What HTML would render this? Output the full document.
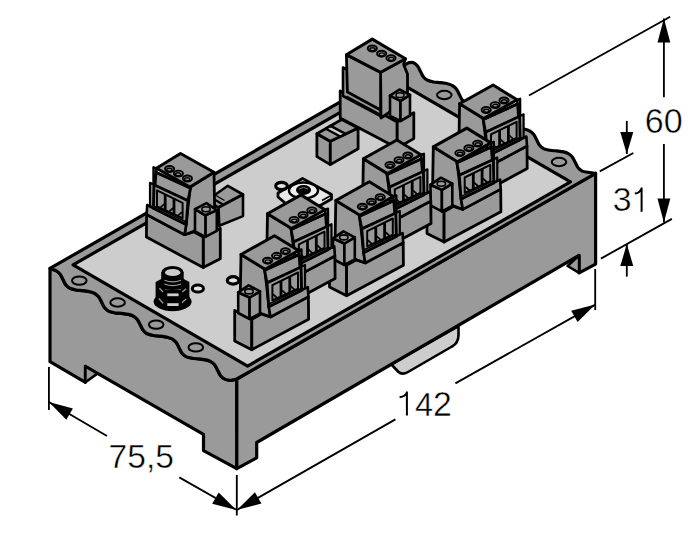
<!DOCTYPE html>
<html><head><meta charset="utf-8"><style>html,body{margin:0;padding:0;background:#fff;width:700px;height:555px;overflow:hidden}svg{display:block}</style></head>
<body><svg width="700" height="555" viewBox="0 0 700 555">
<rect width="700" height="555" fill="#fff"/>
<path d="M391,364 L398,371.5 Q402,375.5 408,372 L452,346.5 Q458.5,343 458.5,335 L458.5,326 Z" fill="#cdcdcd" stroke="#000" stroke-width="2.6" stroke-linejoin="round"/>
<path d="M50,268.4 C51.0,268.8 54.3,269.8 56.0,270.7 C57.7,271.6 58.8,272.5 60.0,274.0 C61.2,275.5 62.0,277.7 63.0,279.5 C64.0,281.3 64.8,283.5 66.0,285.0 C67.2,286.5 68.3,287.5 70.0,288.3 C71.7,289.1 73.8,289.6 76.0,290.0 C78.2,290.4 80.7,290.4 83.0,290.7 C85.3,291.0 88.0,291.2 90.0,291.7 C92.0,292.2 93.2,292.6 94.7,293.4 C96.2,294.3 97.5,295.3 98.7,296.8 C99.9,298.2 100.7,300.4 101.7,302.2 C102.7,304.1 103.5,306.3 104.7,307.8 C105.9,309.2 107.0,310.2 108.7,311.1 C110.4,311.9 112.5,312.4 114.7,312.8 C116.9,313.1 119.4,313.2 121.7,313.4 C124.0,313.7 126.7,314.0 128.7,314.4 C130.6,314.9 131.9,315.4 133.4,316.2 C134.9,317.0 136.2,318.0 137.4,319.5 C138.6,321.0 139.4,323.2 140.4,325.0 C141.4,326.8 142.2,329.0 143.4,330.5 C144.6,332.0 145.7,333.0 147.4,333.8 C149.1,334.6 151.2,335.1 153.4,335.5 C155.6,335.9 158.1,335.9 160.4,336.2 C162.7,336.5 165.4,336.7 167.4,337.2 C169.4,337.7 170.7,338.1 172.1,338.9 C173.6,339.8 174.9,340.8 176.1,342.2 C177.3,343.7 178.1,345.9 179.1,347.8 C180.1,349.6 180.9,351.8 182.1,353.2 C183.3,354.7 184.4,355.7 186.1,356.6 C187.8,357.4 189.9,357.9 192.1,358.2 C194.3,358.6 196.8,358.7 199.1,358.9 C201.4,359.2 204.2,359.5 206.1,359.9 C208.1,360.4 209.4,360.9 210.8,361.7 C212.2,362.5 213.6,363.5 214.8,365.0 C216.0,366.5 216.8,368.7 217.8,370.5 C218.8,372.3 219.6,374.6 220.8,376.0 C222.0,377.4 223.2,378.4 224.8,379.1 C226.4,379.8 228.3,380.3 230.3,380.3 C232.3,380.3 235.7,379.2 236.8,379.0 L236.8,468.6 L203.5,450.6 L203.5,434.4 L85.4,366.3 L85.4,382.3 L50,361.7 Z" fill="#9a9a9a" stroke="#000" stroke-width="3.2" stroke-linejoin="round"/>
<polygon points="85.4,366.3 97.4,373.6 85.4,382.3" fill="#9a9a9a" stroke="#000" stroke-width="2.6" stroke-linejoin="round" />
<polygon points="236.8,379.0 595.6,173.3 595.6,264.1 579.1,272.8 579.1,255.3 256.7,442.5 256.7,457.8 236.8,468.6" fill="#9a9a9a" stroke="#000" stroke-width="3.2" stroke-linejoin="round" />
<polygon points="579.1,255.3 567.6,266.0 579.1,272.8" fill="#9a9a9a" stroke="#000" stroke-width="2.6" stroke-linejoin="round" />
<path d="M50,268.4 L408.8,62.7 C409.6,62.7 412.1,62.1 413.5,62.7 C414.9,63.3 416.3,64.5 417.5,66.0 C418.7,67.5 419.5,69.7 420.5,71.5 C421.5,73.3 422.3,75.5 423.5,77.0 C424.7,78.5 425.8,79.5 427.5,80.3 C429.2,81.1 431.3,81.6 433.5,82.0 C435.7,82.4 438.2,82.4 440.5,82.7 C442.8,83.0 445.6,83.2 447.5,83.7 C449.4,84.2 450.8,84.6 452.2,85.5 C453.6,86.3 455.0,87.3 456.2,88.8 C457.4,90.2 458.2,92.4 459.2,94.2 C460.2,96.1 461.0,98.3 462.2,99.8 C463.4,101.2 464.5,102.2 466.2,103.0 C467.9,103.9 470.0,104.3 472.2,104.8 C474.4,105.2 476.9,105.2 479.2,105.5 C481.5,105.7 484.2,106.0 486.2,106.5 C488.1,106.9 489.4,107.4 490.9,108.2 C492.3,109.0 493.7,110.0 494.9,111.5 C496.1,113.0 496.9,115.2 497.9,117.0 C498.9,118.8 499.7,121.0 500.9,122.5 C502.1,124.0 503.2,125.0 504.9,125.8 C506.6,126.6 508.7,127.1 510.9,127.5 C513.1,127.9 515.6,127.9 517.9,128.2 C520.2,128.5 522.9,128.7 524.9,129.2 C526.9,129.7 528.1,130.1 529.6,130.9 C531.1,131.8 532.4,132.8 533.6,134.2 C534.8,135.7 535.6,137.9 536.6,139.8 C537.6,141.6 538.4,143.8 539.6,145.2 C540.8,146.7 541.9,147.7 543.6,148.6 C545.3,149.4 547.4,149.8 549.6,150.2 C551.8,150.7 554.3,150.7 556.6,150.9 C558.9,151.2 561.7,151.5 563.6,151.9 C565.5,152.4 566.8,152.9 568.3,153.7 C569.8,154.5 571.1,155.5 572.3,157.0 C573.5,158.5 574.3,160.7 575.3,162.5 C576.3,164.3 577.1,166.6 578.3,168.0 C579.5,169.4 580.7,170.4 582.3,171.1 C583.9,171.8 585.6,171.9 587.8,172.3 C590.0,172.7 594.3,173.1 595.6,173.3 L236.8,379 C235.7,379.2 232.3,380.3 230.3,380.3 C228.3,380.3 226.4,379.8 224.8,379.1 C223.2,378.4 222.0,377.4 220.8,376.0 C219.6,374.6 218.8,372.3 217.8,370.5 C216.8,368.7 216.0,366.5 214.8,365.0 C213.6,363.5 212.2,362.5 210.8,361.7 C209.4,360.9 208.1,360.4 206.1,359.9 C204.2,359.5 201.4,359.2 199.1,358.9 C196.8,358.7 194.3,358.6 192.1,358.2 C189.9,357.9 187.8,357.4 186.1,356.6 C184.4,355.7 183.3,354.7 182.1,353.2 C180.9,351.8 180.1,349.6 179.1,347.8 C178.1,345.9 177.3,343.7 176.1,342.2 C174.9,340.8 173.6,339.8 172.1,338.9 C170.7,338.1 169.4,337.7 167.4,337.2 C165.4,336.7 162.7,336.5 160.4,336.2 C158.1,335.9 155.6,335.9 153.4,335.5 C151.2,335.1 149.1,334.6 147.4,333.8 C145.7,333.0 144.6,332.0 143.4,330.5 C142.2,329.0 141.4,326.8 140.4,325.0 C139.4,323.2 138.6,321.0 137.4,319.5 C136.2,318.0 134.9,317.0 133.4,316.2 C131.9,315.4 130.6,314.9 128.7,314.4 C126.7,314.0 124.0,313.7 121.7,313.4 C119.4,313.2 116.9,313.1 114.7,312.8 C112.5,312.4 110.4,311.9 108.7,311.1 C107.0,310.2 105.9,309.2 104.7,307.8 C103.5,306.3 102.7,304.1 101.7,302.2 C100.7,300.4 99.9,298.2 98.7,296.8 C97.5,295.3 96.2,294.3 94.7,293.4 C93.2,292.6 92.0,292.2 90.0,291.7 C88.0,291.2 85.3,291.0 83.0,290.7 C80.7,290.4 78.2,290.4 76.0,290.0 C73.8,289.6 71.7,289.1 70.0,288.3 C68.3,287.5 67.2,286.5 66.0,285.0 C64.8,283.5 64.0,281.3 63.0,279.5 C62.0,277.7 61.2,275.5 60.0,274.0 C58.8,272.5 57.7,271.6 56.0,270.7 C54.3,269.8 51.0,268.8 50.0,268.4 Z" fill="#9a9a9a" stroke="#000" stroke-width="3.2" stroke-linejoin="round"/>
<polygon points="73.1,264.8 396.0,80.6 570.5,181.9 247.6,366.1" fill="#cdcdcd" stroke="#000" stroke-width="3.2" stroke-linejoin="round" />
<ellipse cx="79.3" cy="280.6" rx="7.3" ry="4.2" fill="#9a9a9a" stroke="#000" stroke-width="2"/>
<ellipse cx="117.6" cy="302.5" rx="7.3" ry="4.2" fill="#9a9a9a" stroke="#000" stroke-width="2"/>
<ellipse cx="156.2" cy="324.6" rx="7.3" ry="4.2" fill="#9a9a9a" stroke="#000" stroke-width="2"/>
<ellipse cx="195.8" cy="347.4" rx="7.3" ry="4.2" fill="#9a9a9a" stroke="#000" stroke-width="2"/>
<ellipse cx="444.3" cy="95" rx="7.3" ry="4.2" fill="#9a9a9a" stroke="#000" stroke-width="2"/>
<ellipse cx="559" cy="162" rx="7.3" ry="4.2" fill="#9a9a9a" stroke="#000" stroke-width="2"/>
<polygon points="340.2,91.0 397.2,122.0 397.2,148.0 340.2,118.0" fill="#9a9a9a" stroke="#000" stroke-width="2.8" stroke-linejoin="round" />
<polygon points="397.2,122.0 413.8,112.7 413.8,138.6 397.2,148.0" fill="#9a9a9a" stroke="#000" stroke-width="2.8" stroke-linejoin="round" />
<polygon points="380.6,72.3 405.5,58.8 403.6,64.5 407.5,74.0 407.5,100.0 381.0,118.0" fill="#9a9a9a" stroke="#000" stroke-width="2.8" stroke-linejoin="round" />
<polygon points="343.0,67.5 380.6,87.0 380.6,116.0 343.0,96.0" fill="#9a9a9a" stroke="#000" stroke-width="2.6" stroke-linejoin="round" />
<polygon points="346.4,54.7 380.6,72.3 380.6,110.0 347.4,92.0" fill="#9a9a9a" stroke="#000" stroke-width="2.8" stroke-linejoin="round" />
<line x1="346.4" y1="96.5" x2="380.0" y2="114.5" stroke="#000" stroke-width="2.4"/>
<polygon points="346.4,54.7 372.3,39.1 405.5,58.8 380.6,72.3" fill="#9a9a9a" stroke="#000" stroke-width="3" stroke-linejoin="round" />
<ellipse cx="372.3" cy="48.5" rx="4.6" ry="3.0" fill="#9a9a9a" stroke="#000" stroke-width="1.9"/>
<ellipse cx="372.5" cy="49.2" rx="2.7" ry="1.5" fill="none" stroke="#000" stroke-width="1.4"/>
<ellipse cx="381.6" cy="53.7" rx="4.6" ry="3.0" fill="#9a9a9a" stroke="#000" stroke-width="1.9"/>
<ellipse cx="381.8" cy="54.400000000000006" rx="2.7" ry="1.5" fill="none" stroke="#000" stroke-width="1.4"/>
<ellipse cx="391" cy="58.2" rx="4.6" ry="3.0" fill="#9a9a9a" stroke="#000" stroke-width="1.9"/>
<ellipse cx="391.2" cy="58.900000000000006" rx="2.7" ry="1.5" fill="none" stroke="#000" stroke-width="1.4"/>
<polygon points="390.0,95.6 400.5,100.8 400.5,121.0 390.0,115.8" fill="#9a9a9a" stroke="#000" stroke-width="2.6" stroke-linejoin="round" />
<polygon points="400.5,100.8 410.0,94.8 410.0,115.5 400.5,121.0" fill="#9a9a9a" stroke="#000" stroke-width="2.6" stroke-linejoin="round" />
<polygon points="390.0,95.6 399.5,89.5 410.0,94.8 400.5,100.8" fill="#9a9a9a" stroke="#000" stroke-width="2.6" stroke-linejoin="round" />
<ellipse cx="400" cy="95.2" rx="4" ry="2.4" fill="#9a9a9a" stroke="#000" stroke-width="1.5"/>
<polygon points="316.9,133.8 330.3,141.3 330.3,164.6 316.9,156.6" fill="#9a9a9a" stroke="#000" stroke-width="2.8" stroke-linejoin="round" />
<polygon points="330.3,141.3 358.1,127.9 358.1,148.7 330.3,164.6" fill="#9a9a9a" stroke="#000" stroke-width="2.8" stroke-linejoin="round" />
<polygon points="316.9,133.8 341.7,119.5 358.1,127.9 330.3,141.3" fill="#9a9a9a" stroke="#000" stroke-width="2.8" stroke-linejoin="round" />
<polygon points="325.8,128.7 330.5,125.9 345.6,133.9 340.3,136.5" fill="#cdcdcd" stroke="#000" stroke-width="2.4" stroke-linejoin="round" />
<g transform="translate(459.6,103.8)"><polygon points="-6.3,56.0 10.8,64.8 10.8,95.2 -6.3,86.5" fill="#9a9a9a" stroke="#000" stroke-width="2.8" stroke-linejoin="round" />
<polygon points="10.8,64.8 20.2,59.5 29.5,62.4 67.4,42.2 67.6,64.8 10.8,95.2" fill="#9a9a9a" stroke="#000" stroke-width="2.8" stroke-linejoin="round" />
<polygon points="0.0,0.0 23.5,14.0 25.5,30.0 27.8,52.2 29.5,62.4 20.7,59.2 -0.8,46.0" fill="#9a9a9a" stroke="#000" stroke-width="2.8" stroke-linejoin="round" />
<polygon points="57.5,-4.0 60.5,-5.0 60.5,12.5 58.8,13.5" fill="#9a9a9a" stroke="#000" stroke-width="2.4" stroke-linejoin="round" />
<polygon points="60.0,12.5 64.0,10.5 64.0,34.0 60.5,36.0" fill="#9a9a9a" stroke="#000" stroke-width="2.2" stroke-linejoin="round" />
<polygon points="27.8,52.2 66.8,32.7 67.4,42.2 29.5,62.4" fill="#9a9a9a" stroke="#000" stroke-width="2.6" stroke-linejoin="round" />
<polygon points="23.5,15.5 58.0,0.0 59.0,13.5 26.0,28.4" fill="#9a9a9a" stroke="#000" stroke-width="2.8" stroke-linejoin="round" />
<polygon points="26.0,28.4 60.0,12.5 60.5,36.0 27.8,52.2" fill="#9a9a9a" stroke="#000" stroke-width="2.8" stroke-linejoin="round" />
<polygon points="31.4,30.6 57.0,18.0 57.0,34.2 31.4,45.9" fill="#9a9a9a" stroke="#000" stroke-width="2.0" stroke-linejoin="round" />
<line x1="32.0" y1="39.8" x2="36.4" y2="43.6" stroke="#000" stroke-width="1.8"/>
<line x1="40.8" y1="35.7" x2="45.2" y2="39.6" stroke="#000" stroke-width="1.8"/>
<line x1="49.6" y1="31.5" x2="54.0" y2="35.6" stroke="#000" stroke-width="1.8"/>
<line x1="40.0" y1="26.4" x2="40.0" y2="42.0" stroke="#000" stroke-width="2.8"/>
<line x1="48.8" y1="22.0" x2="48.8" y2="37.9" stroke="#000" stroke-width="2.8"/>
<line x1="28.5" y1="49.2" x2="61.5" y2="33.2" stroke="#000" stroke-width="1.6"/>
<polygon points="0.0,0.0 33.5,-18.8 57.5,-4.0 24.0,14.8" fill="#9a9a9a" stroke="#000" stroke-width="3" stroke-linejoin="round" />
<line x1="23.5" y1="16.2" x2="58.0" y2="0.3" stroke="#000" stroke-width="2.4"/>
<ellipse cx="26.6" cy="6.2" rx="4.6" ry="3.0" fill="#9a9a9a" stroke="#000" stroke-width="1.9"/>
<ellipse cx="26.8" cy="6.9" rx="2.7" ry="1.5" fill="none" stroke="#000" stroke-width="1.4"/>
<ellipse cx="35.6" cy="1.3" rx="4.6" ry="3.0" fill="#9a9a9a" stroke="#000" stroke-width="1.9"/>
<ellipse cx="35.800000000000004" cy="2.0" rx="2.7" ry="1.5" fill="none" stroke="#000" stroke-width="1.4"/>
<ellipse cx="44.4" cy="-3.3" rx="4.6" ry="3.0" fill="#9a9a9a" stroke="#000" stroke-width="1.9"/>
<ellipse cx="44.6" cy="-2.5999999999999996" rx="2.7" ry="1.5" fill="none" stroke="#000" stroke-width="1.4"/>
<polygon points="-2.8,37.8 8.6,43.0 8.6,64.5 -2.8,58.5" fill="#9a9a9a" stroke="#000" stroke-width="2.6" stroke-linejoin="round" />
<polygon points="8.6,43.0 19.0,36.8 19.0,59.0 8.6,64.5" fill="#9a9a9a" stroke="#000" stroke-width="2.6" stroke-linejoin="round" />
<polygon points="-2.8,37.8 7.6,30.8 19.0,36.8 8.6,43.0" fill="#9a9a9a" stroke="#000" stroke-width="2.6" stroke-linejoin="round" />
<ellipse cx="8" cy="36.9" rx="4.2" ry="2.5" fill="#9a9a9a" stroke="#000" stroke-width="1.6"/></g>
<polygon points="212.0,197.0 227.8,185.8 243.0,194.5 218.5,207.5 212.0,204.0" fill="#9a9a9a" stroke="#000" stroke-width="2.6" stroke-linejoin="round" />
<polygon points="218.5,207.5 243.0,194.5 243.0,216.1 219.2,225.8" fill="#9a9a9a" stroke="#000" stroke-width="2.6" stroke-linejoin="round" />
<line x1="214.5" y1="199.5" x2="223.0" y2="204.5" stroke="#000" stroke-width="2.2"/>
<line x1="216.0" y1="195.5" x2="224.5" y2="200.5" stroke="#000" stroke-width="1.4"/>
<g transform="translate(214,172.3) scale(-1,1)"><polygon points="-6.3,56.0 10.8,64.8 10.8,95.2 -6.3,86.5" fill="#9a9a9a" stroke="#000" stroke-width="2.8" stroke-linejoin="round" />
<polygon points="10.8,64.8 20.2,59.5 29.5,62.4 67.4,42.2 67.6,64.8 10.8,95.2" fill="#9a9a9a" stroke="#000" stroke-width="2.8" stroke-linejoin="round" />
<polygon points="0.0,0.0 23.5,14.0 25.5,30.0 27.8,52.2 29.5,62.4 20.7,59.2 -0.8,46.0" fill="#9a9a9a" stroke="#000" stroke-width="2.8" stroke-linejoin="round" />
<polygon points="57.5,-4.0 60.5,-5.0 60.5,12.5 58.8,13.5" fill="#9a9a9a" stroke="#000" stroke-width="2.4" stroke-linejoin="round" />
<polygon points="60.0,12.5 64.0,10.5 64.0,34.0 60.5,36.0" fill="#9a9a9a" stroke="#000" stroke-width="2.2" stroke-linejoin="round" />
<polygon points="27.8,52.2 66.8,32.7 67.4,42.2 29.5,62.4" fill="#9a9a9a" stroke="#000" stroke-width="2.6" stroke-linejoin="round" />
<polygon points="23.5,15.5 58.0,0.0 59.0,13.5 26.0,28.4" fill="#9a9a9a" stroke="#000" stroke-width="2.8" stroke-linejoin="round" />
<polygon points="26.0,28.4 60.0,12.5 60.5,36.0 27.8,52.2" fill="#9a9a9a" stroke="#000" stroke-width="2.8" stroke-linejoin="round" />
<polygon points="31.4,30.6 57.0,18.0 57.0,34.2 31.4,45.9" fill="#9a9a9a" stroke="#000" stroke-width="2.0" stroke-linejoin="round" />
<line x1="32.0" y1="39.8" x2="36.4" y2="43.6" stroke="#000" stroke-width="1.8"/>
<line x1="40.8" y1="35.7" x2="45.2" y2="39.6" stroke="#000" stroke-width="1.8"/>
<line x1="49.6" y1="31.5" x2="54.0" y2="35.6" stroke="#000" stroke-width="1.8"/>
<line x1="40.0" y1="26.4" x2="40.0" y2="42.0" stroke="#000" stroke-width="2.8"/>
<line x1="48.8" y1="22.0" x2="48.8" y2="37.9" stroke="#000" stroke-width="2.8"/>
<line x1="28.5" y1="49.2" x2="61.5" y2="33.2" stroke="#000" stroke-width="1.6"/>
<polygon points="0.0,0.0 33.5,-18.8 57.5,-4.0 24.0,14.8" fill="#9a9a9a" stroke="#000" stroke-width="3" stroke-linejoin="round" />
<line x1="23.5" y1="16.2" x2="58.0" y2="0.3" stroke="#000" stroke-width="2.4"/>
<ellipse cx="26.6" cy="6.2" rx="4.6" ry="3.0" fill="#9a9a9a" stroke="#000" stroke-width="1.9"/>
<ellipse cx="26.8" cy="6.9" rx="2.7" ry="1.5" fill="none" stroke="#000" stroke-width="1.4"/>
<ellipse cx="35.6" cy="1.3" rx="4.6" ry="3.0" fill="#9a9a9a" stroke="#000" stroke-width="1.9"/>
<ellipse cx="35.800000000000004" cy="2.0" rx="2.7" ry="1.5" fill="none" stroke="#000" stroke-width="1.4"/>
<ellipse cx="44.4" cy="-3.3" rx="4.6" ry="3.0" fill="#9a9a9a" stroke="#000" stroke-width="1.9"/>
<ellipse cx="44.6" cy="-2.5999999999999996" rx="2.7" ry="1.5" fill="none" stroke="#000" stroke-width="1.4"/>
<polygon points="-2.8,37.8 8.6,43.0 8.6,64.5 -2.8,58.5" fill="#9a9a9a" stroke="#000" stroke-width="2.6" stroke-linejoin="round" />
<polygon points="8.6,43.0 19.0,36.8 19.0,59.0 8.6,64.5" fill="#9a9a9a" stroke="#000" stroke-width="2.6" stroke-linejoin="round" />
<polygon points="-2.8,37.8 7.6,30.8 19.0,36.8 8.6,43.0" fill="#9a9a9a" stroke="#000" stroke-width="2.6" stroke-linejoin="round" />
<ellipse cx="8" cy="36.9" rx="4.2" ry="2.5" fill="#9a9a9a" stroke="#000" stroke-width="1.6"/></g>
<polygon points="278.0,193.0 302.5,178.5 331.5,194.5 331.5,199.0 321.0,205.0 296.0,212.0 278.0,197.0" fill="#e8e8e8" stroke="#000" stroke-width="2.8" stroke-linejoin="round" />
<line x1="322.0" y1="200.5" x2="331.0" y2="195.5" stroke="#000" stroke-width="1.6"/>
<ellipse cx="303.5" cy="190.5" rx="14.5" ry="8" fill="#f0f0f0" stroke="#000" stroke-width="2.4"/>
<ellipse cx="303.5" cy="190" rx="7.5" ry="5" fill="#000"/>
<path d="M299,189 Q303.5,186 308,189" fill="none" stroke="#777" stroke-width="1"/>
<ellipse cx="281.5" cy="186" rx="5.8" ry="3.7" fill="#e4e4e4" stroke="#000" stroke-width="3.2"/>
<g transform="translate(433.3,146.9)"><polygon points="-6.3,56.0 10.8,64.8 10.8,95.2 -6.3,86.5" fill="#9a9a9a" stroke="#000" stroke-width="2.8" stroke-linejoin="round" />
<polygon points="10.8,64.8 20.2,59.5 29.5,62.4 67.4,42.2 67.6,64.8 10.8,95.2" fill="#9a9a9a" stroke="#000" stroke-width="2.8" stroke-linejoin="round" />
<polygon points="0.0,0.0 23.5,14.0 25.5,30.0 27.8,52.2 29.5,62.4 20.7,59.2 -0.8,46.0" fill="#9a9a9a" stroke="#000" stroke-width="2.8" stroke-linejoin="round" />
<polygon points="57.5,-4.0 60.5,-5.0 60.5,12.5 58.8,13.5" fill="#9a9a9a" stroke="#000" stroke-width="2.4" stroke-linejoin="round" />
<polygon points="60.0,12.5 64.0,10.5 64.0,34.0 60.5,36.0" fill="#9a9a9a" stroke="#000" stroke-width="2.2" stroke-linejoin="round" />
<polygon points="27.8,52.2 66.8,32.7 67.4,42.2 29.5,62.4" fill="#9a9a9a" stroke="#000" stroke-width="2.6" stroke-linejoin="round" />
<polygon points="23.5,15.5 58.0,0.0 59.0,13.5 26.0,28.4" fill="#9a9a9a" stroke="#000" stroke-width="2.8" stroke-linejoin="round" />
<polygon points="26.0,28.4 60.0,12.5 60.5,36.0 27.8,52.2" fill="#9a9a9a" stroke="#000" stroke-width="2.8" stroke-linejoin="round" />
<polygon points="31.4,30.6 57.0,18.0 57.0,34.2 31.4,45.9" fill="#9a9a9a" stroke="#000" stroke-width="2.0" stroke-linejoin="round" />
<line x1="32.0" y1="39.8" x2="36.4" y2="43.6" stroke="#000" stroke-width="1.8"/>
<line x1="40.8" y1="35.7" x2="45.2" y2="39.6" stroke="#000" stroke-width="1.8"/>
<line x1="49.6" y1="31.5" x2="54.0" y2="35.6" stroke="#000" stroke-width="1.8"/>
<line x1="40.0" y1="26.4" x2="40.0" y2="42.0" stroke="#000" stroke-width="2.8"/>
<line x1="48.8" y1="22.0" x2="48.8" y2="37.9" stroke="#000" stroke-width="2.8"/>
<line x1="28.5" y1="49.2" x2="61.5" y2="33.2" stroke="#000" stroke-width="1.6"/>
<polygon points="0.0,0.0 33.5,-18.8 57.5,-4.0 24.0,14.8" fill="#9a9a9a" stroke="#000" stroke-width="3" stroke-linejoin="round" />
<line x1="23.5" y1="16.2" x2="58.0" y2="0.3" stroke="#000" stroke-width="2.4"/>
<ellipse cx="26.6" cy="6.2" rx="4.6" ry="3.0" fill="#9a9a9a" stroke="#000" stroke-width="1.9"/>
<ellipse cx="26.8" cy="6.9" rx="2.7" ry="1.5" fill="none" stroke="#000" stroke-width="1.4"/>
<ellipse cx="35.6" cy="1.3" rx="4.6" ry="3.0" fill="#9a9a9a" stroke="#000" stroke-width="1.9"/>
<ellipse cx="35.800000000000004" cy="2.0" rx="2.7" ry="1.5" fill="none" stroke="#000" stroke-width="1.4"/>
<ellipse cx="44.4" cy="-3.3" rx="4.6" ry="3.0" fill="#9a9a9a" stroke="#000" stroke-width="1.9"/>
<ellipse cx="44.6" cy="-2.5999999999999996" rx="2.7" ry="1.5" fill="none" stroke="#000" stroke-width="1.4"/>
<polygon points="-2.8,37.8 8.6,43.0 8.6,64.5 -2.8,58.5" fill="#9a9a9a" stroke="#000" stroke-width="2.6" stroke-linejoin="round" />
<polygon points="8.6,43.0 19.0,36.8 19.0,59.0 8.6,64.5" fill="#9a9a9a" stroke="#000" stroke-width="2.6" stroke-linejoin="round" />
<polygon points="-2.8,37.8 7.6,30.8 19.0,36.8 8.6,43.0" fill="#9a9a9a" stroke="#000" stroke-width="2.6" stroke-linejoin="round" />
<ellipse cx="8" cy="36.9" rx="4.2" ry="2.5" fill="#9a9a9a" stroke="#000" stroke-width="1.6"/></g>
<g transform="translate(363.4,158.8)"><polygon points="-6.3,56.0 10.8,64.8 10.8,95.2 -6.3,86.5" fill="#9a9a9a" stroke="#000" stroke-width="2.8" stroke-linejoin="round" />
<polygon points="10.8,64.8 20.2,59.5 29.5,62.4 67.4,42.2 67.6,64.8 10.8,95.2" fill="#9a9a9a" stroke="#000" stroke-width="2.8" stroke-linejoin="round" />
<polygon points="0.0,0.0 23.5,14.0 25.5,30.0 27.8,52.2 29.5,62.4 20.7,59.2 -0.8,46.0" fill="#9a9a9a" stroke="#000" stroke-width="2.8" stroke-linejoin="round" />
<polygon points="57.5,-4.0 60.5,-5.0 60.5,12.5 58.8,13.5" fill="#9a9a9a" stroke="#000" stroke-width="2.4" stroke-linejoin="round" />
<polygon points="60.0,12.5 64.0,10.5 64.0,34.0 60.5,36.0" fill="#9a9a9a" stroke="#000" stroke-width="2.2" stroke-linejoin="round" />
<polygon points="27.8,52.2 66.8,32.7 67.4,42.2 29.5,62.4" fill="#9a9a9a" stroke="#000" stroke-width="2.6" stroke-linejoin="round" />
<polygon points="23.5,15.5 58.0,0.0 59.0,13.5 26.0,28.4" fill="#9a9a9a" stroke="#000" stroke-width="2.8" stroke-linejoin="round" />
<polygon points="26.0,28.4 60.0,12.5 60.5,36.0 27.8,52.2" fill="#9a9a9a" stroke="#000" stroke-width="2.8" stroke-linejoin="round" />
<polygon points="31.4,30.6 57.0,18.0 57.0,34.2 31.4,45.9" fill="#9a9a9a" stroke="#000" stroke-width="2.0" stroke-linejoin="round" />
<line x1="32.0" y1="39.8" x2="36.4" y2="43.6" stroke="#000" stroke-width="1.8"/>
<line x1="40.8" y1="35.7" x2="45.2" y2="39.6" stroke="#000" stroke-width="1.8"/>
<line x1="49.6" y1="31.5" x2="54.0" y2="35.6" stroke="#000" stroke-width="1.8"/>
<line x1="40.0" y1="26.4" x2="40.0" y2="42.0" stroke="#000" stroke-width="2.8"/>
<line x1="48.8" y1="22.0" x2="48.8" y2="37.9" stroke="#000" stroke-width="2.8"/>
<line x1="28.5" y1="49.2" x2="61.5" y2="33.2" stroke="#000" stroke-width="1.6"/>
<polygon points="0.0,0.0 33.5,-18.8 57.5,-4.0 24.0,14.8" fill="#9a9a9a" stroke="#000" stroke-width="3" stroke-linejoin="round" />
<line x1="23.5" y1="16.2" x2="58.0" y2="0.3" stroke="#000" stroke-width="2.4"/>
<ellipse cx="26.6" cy="6.2" rx="4.6" ry="3.0" fill="#9a9a9a" stroke="#000" stroke-width="1.9"/>
<ellipse cx="26.8" cy="6.9" rx="2.7" ry="1.5" fill="none" stroke="#000" stroke-width="1.4"/>
<ellipse cx="35.6" cy="1.3" rx="4.6" ry="3.0" fill="#9a9a9a" stroke="#000" stroke-width="1.9"/>
<ellipse cx="35.800000000000004" cy="2.0" rx="2.7" ry="1.5" fill="none" stroke="#000" stroke-width="1.4"/>
<ellipse cx="44.4" cy="-3.3" rx="4.6" ry="3.0" fill="#9a9a9a" stroke="#000" stroke-width="1.9"/>
<ellipse cx="44.6" cy="-2.5999999999999996" rx="2.7" ry="1.5" fill="none" stroke="#000" stroke-width="1.4"/>
<polygon points="-2.8,37.8 8.6,43.0 8.6,64.5 -2.8,58.5" fill="#9a9a9a" stroke="#000" stroke-width="2.6" stroke-linejoin="round" />
<polygon points="8.6,43.0 19.0,36.8 19.0,59.0 8.6,64.5" fill="#9a9a9a" stroke="#000" stroke-width="2.6" stroke-linejoin="round" />
<polygon points="-2.8,37.8 7.6,30.8 19.0,36.8 8.6,43.0" fill="#9a9a9a" stroke="#000" stroke-width="2.6" stroke-linejoin="round" />
<ellipse cx="8" cy="36.9" rx="4.2" ry="2.5" fill="#9a9a9a" stroke="#000" stroke-width="1.6"/></g>
<g transform="translate(335.8,200.5)"><polygon points="-6.3,56.0 10.8,64.8 10.8,95.2 -6.3,86.5" fill="#9a9a9a" stroke="#000" stroke-width="2.8" stroke-linejoin="round" />
<polygon points="10.8,64.8 20.2,59.5 29.5,62.4 67.4,42.2 67.6,64.8 10.8,95.2" fill="#9a9a9a" stroke="#000" stroke-width="2.8" stroke-linejoin="round" />
<polygon points="0.0,0.0 23.5,14.0 25.5,30.0 27.8,52.2 29.5,62.4 20.7,59.2 -0.8,46.0" fill="#9a9a9a" stroke="#000" stroke-width="2.8" stroke-linejoin="round" />
<polygon points="57.5,-4.0 60.5,-5.0 60.5,12.5 58.8,13.5" fill="#9a9a9a" stroke="#000" stroke-width="2.4" stroke-linejoin="round" />
<polygon points="60.0,12.5 64.0,10.5 64.0,34.0 60.5,36.0" fill="#9a9a9a" stroke="#000" stroke-width="2.2" stroke-linejoin="round" />
<polygon points="27.8,52.2 66.8,32.7 67.4,42.2 29.5,62.4" fill="#9a9a9a" stroke="#000" stroke-width="2.6" stroke-linejoin="round" />
<polygon points="23.5,15.5 58.0,0.0 59.0,13.5 26.0,28.4" fill="#9a9a9a" stroke="#000" stroke-width="2.8" stroke-linejoin="round" />
<polygon points="26.0,28.4 60.0,12.5 60.5,36.0 27.8,52.2" fill="#9a9a9a" stroke="#000" stroke-width="2.8" stroke-linejoin="round" />
<polygon points="31.4,30.6 57.0,18.0 57.0,34.2 31.4,45.9" fill="#9a9a9a" stroke="#000" stroke-width="2.0" stroke-linejoin="round" />
<line x1="32.0" y1="39.8" x2="36.4" y2="43.6" stroke="#000" stroke-width="1.8"/>
<line x1="40.8" y1="35.7" x2="45.2" y2="39.6" stroke="#000" stroke-width="1.8"/>
<line x1="49.6" y1="31.5" x2="54.0" y2="35.6" stroke="#000" stroke-width="1.8"/>
<line x1="40.0" y1="26.4" x2="40.0" y2="42.0" stroke="#000" stroke-width="2.8"/>
<line x1="48.8" y1="22.0" x2="48.8" y2="37.9" stroke="#000" stroke-width="2.8"/>
<line x1="28.5" y1="49.2" x2="61.5" y2="33.2" stroke="#000" stroke-width="1.6"/>
<polygon points="0.0,0.0 33.5,-18.8 57.5,-4.0 24.0,14.8" fill="#9a9a9a" stroke="#000" stroke-width="3" stroke-linejoin="round" />
<line x1="23.5" y1="16.2" x2="58.0" y2="0.3" stroke="#000" stroke-width="2.4"/>
<ellipse cx="26.6" cy="6.2" rx="4.6" ry="3.0" fill="#9a9a9a" stroke="#000" stroke-width="1.9"/>
<ellipse cx="26.8" cy="6.9" rx="2.7" ry="1.5" fill="none" stroke="#000" stroke-width="1.4"/>
<ellipse cx="35.6" cy="1.3" rx="4.6" ry="3.0" fill="#9a9a9a" stroke="#000" stroke-width="1.9"/>
<ellipse cx="35.800000000000004" cy="2.0" rx="2.7" ry="1.5" fill="none" stroke="#000" stroke-width="1.4"/>
<ellipse cx="44.4" cy="-3.3" rx="4.6" ry="3.0" fill="#9a9a9a" stroke="#000" stroke-width="1.9"/>
<ellipse cx="44.6" cy="-2.5999999999999996" rx="2.7" ry="1.5" fill="none" stroke="#000" stroke-width="1.4"/>
<polygon points="-2.8,37.8 8.6,43.0 8.6,64.5 -2.8,58.5" fill="#9a9a9a" stroke="#000" stroke-width="2.6" stroke-linejoin="round" />
<polygon points="8.6,43.0 19.0,36.8 19.0,59.0 8.6,64.5" fill="#9a9a9a" stroke="#000" stroke-width="2.6" stroke-linejoin="round" />
<polygon points="-2.8,37.8 7.6,30.8 19.0,36.8 8.6,43.0" fill="#9a9a9a" stroke="#000" stroke-width="2.6" stroke-linejoin="round" />
<ellipse cx="8" cy="36.9" rx="4.2" ry="2.5" fill="#9a9a9a" stroke="#000" stroke-width="1.6"/></g>
<g transform="translate(267.5,213.7)"><polygon points="-6.3,56.0 10.8,64.8 10.8,95.2 -6.3,86.5" fill="#9a9a9a" stroke="#000" stroke-width="2.8" stroke-linejoin="round" />
<polygon points="10.8,64.8 20.2,59.5 29.5,62.4 67.4,42.2 67.6,64.8 10.8,95.2" fill="#9a9a9a" stroke="#000" stroke-width="2.8" stroke-linejoin="round" />
<polygon points="0.0,0.0 23.5,14.0 25.5,30.0 27.8,52.2 29.5,62.4 20.7,59.2 -0.8,46.0" fill="#9a9a9a" stroke="#000" stroke-width="2.8" stroke-linejoin="round" />
<polygon points="57.5,-4.0 60.5,-5.0 60.5,12.5 58.8,13.5" fill="#9a9a9a" stroke="#000" stroke-width="2.4" stroke-linejoin="round" />
<polygon points="60.0,12.5 64.0,10.5 64.0,34.0 60.5,36.0" fill="#9a9a9a" stroke="#000" stroke-width="2.2" stroke-linejoin="round" />
<polygon points="27.8,52.2 66.8,32.7 67.4,42.2 29.5,62.4" fill="#9a9a9a" stroke="#000" stroke-width="2.6" stroke-linejoin="round" />
<polygon points="23.5,15.5 58.0,0.0 59.0,13.5 26.0,28.4" fill="#9a9a9a" stroke="#000" stroke-width="2.8" stroke-linejoin="round" />
<polygon points="26.0,28.4 60.0,12.5 60.5,36.0 27.8,52.2" fill="#9a9a9a" stroke="#000" stroke-width="2.8" stroke-linejoin="round" />
<polygon points="31.4,30.6 57.0,18.0 57.0,34.2 31.4,45.9" fill="#9a9a9a" stroke="#000" stroke-width="2.0" stroke-linejoin="round" />
<line x1="32.0" y1="39.8" x2="36.4" y2="43.6" stroke="#000" stroke-width="1.8"/>
<line x1="40.8" y1="35.7" x2="45.2" y2="39.6" stroke="#000" stroke-width="1.8"/>
<line x1="49.6" y1="31.5" x2="54.0" y2="35.6" stroke="#000" stroke-width="1.8"/>
<line x1="40.0" y1="26.4" x2="40.0" y2="42.0" stroke="#000" stroke-width="2.8"/>
<line x1="48.8" y1="22.0" x2="48.8" y2="37.9" stroke="#000" stroke-width="2.8"/>
<line x1="28.5" y1="49.2" x2="61.5" y2="33.2" stroke="#000" stroke-width="1.6"/>
<polygon points="0.0,0.0 33.5,-18.8 57.5,-4.0 24.0,14.8" fill="#9a9a9a" stroke="#000" stroke-width="3" stroke-linejoin="round" />
<line x1="23.5" y1="16.2" x2="58.0" y2="0.3" stroke="#000" stroke-width="2.4"/>
<ellipse cx="26.6" cy="6.2" rx="4.6" ry="3.0" fill="#9a9a9a" stroke="#000" stroke-width="1.9"/>
<ellipse cx="26.8" cy="6.9" rx="2.7" ry="1.5" fill="none" stroke="#000" stroke-width="1.4"/>
<ellipse cx="35.6" cy="1.3" rx="4.6" ry="3.0" fill="#9a9a9a" stroke="#000" stroke-width="1.9"/>
<ellipse cx="35.800000000000004" cy="2.0" rx="2.7" ry="1.5" fill="none" stroke="#000" stroke-width="1.4"/>
<ellipse cx="44.4" cy="-3.3" rx="4.6" ry="3.0" fill="#9a9a9a" stroke="#000" stroke-width="1.9"/>
<ellipse cx="44.6" cy="-2.5999999999999996" rx="2.7" ry="1.5" fill="none" stroke="#000" stroke-width="1.4"/>
<polygon points="-2.8,37.8 8.6,43.0 8.6,64.5 -2.8,58.5" fill="#9a9a9a" stroke="#000" stroke-width="2.6" stroke-linejoin="round" />
<polygon points="8.6,43.0 19.0,36.8 19.0,59.0 8.6,64.5" fill="#9a9a9a" stroke="#000" stroke-width="2.6" stroke-linejoin="round" />
<polygon points="-2.8,37.8 7.6,30.8 19.0,36.8 8.6,43.0" fill="#9a9a9a" stroke="#000" stroke-width="2.6" stroke-linejoin="round" />
<ellipse cx="8" cy="36.9" rx="4.2" ry="2.5" fill="#9a9a9a" stroke="#000" stroke-width="1.6"/></g>
<ellipse cx="233.1" cy="280.4" rx="5.8" ry="3.7" fill="#e4e4e4" stroke="#000" stroke-width="3.2"/>
<g transform="translate(241,254.5)"><polygon points="-6.3,56.0 10.8,64.8 10.8,95.2 -6.3,86.5" fill="#9a9a9a" stroke="#000" stroke-width="2.8" stroke-linejoin="round" />
<polygon points="10.8,64.8 20.2,59.5 29.5,62.4 67.4,42.2 67.6,64.8 10.8,95.2" fill="#9a9a9a" stroke="#000" stroke-width="2.8" stroke-linejoin="round" />
<polygon points="0.0,0.0 23.5,14.0 25.5,30.0 27.8,52.2 29.5,62.4 20.7,59.2 -0.8,46.0" fill="#9a9a9a" stroke="#000" stroke-width="2.8" stroke-linejoin="round" />
<polygon points="57.5,-4.0 60.5,-5.0 60.5,12.5 58.8,13.5" fill="#9a9a9a" stroke="#000" stroke-width="2.4" stroke-linejoin="round" />
<polygon points="60.0,12.5 64.0,10.5 64.0,34.0 60.5,36.0" fill="#9a9a9a" stroke="#000" stroke-width="2.2" stroke-linejoin="round" />
<polygon points="27.8,52.2 66.8,32.7 67.4,42.2 29.5,62.4" fill="#9a9a9a" stroke="#000" stroke-width="2.6" stroke-linejoin="round" />
<polygon points="23.5,15.5 58.0,0.0 59.0,13.5 26.0,28.4" fill="#9a9a9a" stroke="#000" stroke-width="2.8" stroke-linejoin="round" />
<polygon points="26.0,28.4 60.0,12.5 60.5,36.0 27.8,52.2" fill="#9a9a9a" stroke="#000" stroke-width="2.8" stroke-linejoin="round" />
<polygon points="31.4,30.6 57.0,18.0 57.0,34.2 31.4,45.9" fill="#9a9a9a" stroke="#000" stroke-width="2.0" stroke-linejoin="round" />
<line x1="32.0" y1="39.8" x2="36.4" y2="43.6" stroke="#000" stroke-width="1.8"/>
<line x1="40.8" y1="35.7" x2="45.2" y2="39.6" stroke="#000" stroke-width="1.8"/>
<line x1="49.6" y1="31.5" x2="54.0" y2="35.6" stroke="#000" stroke-width="1.8"/>
<line x1="40.0" y1="26.4" x2="40.0" y2="42.0" stroke="#000" stroke-width="2.8"/>
<line x1="48.8" y1="22.0" x2="48.8" y2="37.9" stroke="#000" stroke-width="2.8"/>
<line x1="28.5" y1="49.2" x2="61.5" y2="33.2" stroke="#000" stroke-width="1.6"/>
<polygon points="0.0,0.0 33.5,-18.8 57.5,-4.0 24.0,14.8" fill="#9a9a9a" stroke="#000" stroke-width="3" stroke-linejoin="round" />
<line x1="23.5" y1="16.2" x2="58.0" y2="0.3" stroke="#000" stroke-width="2.4"/>
<ellipse cx="26.6" cy="6.2" rx="4.6" ry="3.0" fill="#9a9a9a" stroke="#000" stroke-width="1.9"/>
<ellipse cx="26.8" cy="6.9" rx="2.7" ry="1.5" fill="none" stroke="#000" stroke-width="1.4"/>
<ellipse cx="35.6" cy="1.3" rx="4.6" ry="3.0" fill="#9a9a9a" stroke="#000" stroke-width="1.9"/>
<ellipse cx="35.800000000000004" cy="2.0" rx="2.7" ry="1.5" fill="none" stroke="#000" stroke-width="1.4"/>
<ellipse cx="44.4" cy="-3.3" rx="4.6" ry="3.0" fill="#9a9a9a" stroke="#000" stroke-width="1.9"/>
<ellipse cx="44.6" cy="-2.5999999999999996" rx="2.7" ry="1.5" fill="none" stroke="#000" stroke-width="1.4"/>
<polygon points="-2.8,37.8 8.6,43.0 8.6,64.5 -2.8,58.5" fill="#9a9a9a" stroke="#000" stroke-width="2.6" stroke-linejoin="round" />
<polygon points="8.6,43.0 19.0,36.8 19.0,59.0 8.6,64.5" fill="#9a9a9a" stroke="#000" stroke-width="2.6" stroke-linejoin="round" />
<polygon points="-2.8,37.8 7.6,30.8 19.0,36.8 8.6,43.0" fill="#9a9a9a" stroke="#000" stroke-width="2.6" stroke-linejoin="round" />
<ellipse cx="8" cy="36.9" rx="4.2" ry="2.5" fill="#9a9a9a" stroke="#000" stroke-width="1.6"/></g>
<ellipse cx="172.6" cy="301.5" rx="19" ry="9.7" fill="#000"/>
<path d="M155.6,282 L163,278 L182,278 L189.4,282 L189.4,300 L182,305 L163,305 L155.6,300 Z" fill="#000"/>
<rect x="167.3" y="293.4" width="11.3" height="2.8" fill="#cdcdcd"/>
<rect x="167.3" y="303.2" width="11.3" height="2.8" fill="#cdcdcd"/>
<line x1="159.4" y1="288.2" x2="163.1" y2="292" stroke="#9a9a9a" stroke-width="1.3"/>
<line x1="158.9" y1="298.5" x2="163.1" y2="303.2" stroke="#9a9a9a" stroke-width="1.3"/>
<line x1="182.3" y1="292" x2="186.1" y2="288.7" stroke="#9a9a9a" stroke-width="1.3"/>
<line x1="181.9" y1="302.8" x2="186.1" y2="299" stroke="#9a9a9a" stroke-width="1.3"/>
<path d="M165,289.2 L181,289.2" fill="none" stroke="#9a9a9a" stroke-width="1"/>
<path d="M161.2,272.3 L161.2,288 Q172.5,292 183.7,288 L183.7,272.3 Z" fill="#000"/>
<path d="M164.5,280.2 Q172.5,283.5 181,280.2" fill="none" stroke="#9a9a9a" stroke-width="1.2"/>
<path d="M164.5,284 Q172.5,287.3 181,284" fill="none" stroke="#9a9a9a" stroke-width="1.2"/>
<ellipse cx="172.5" cy="272.3" rx="11" ry="6.3" fill="#000"/>
<ellipse cx="172.7" cy="272.5" rx="7.7" ry="3.6" fill="#cdcdcd"/>
<ellipse cx="197.9" cy="288.5" rx="5.6" ry="3.5" fill="#e4e4e4" stroke="#000" stroke-width="3.0"/>
<line x1="48.9" y1="367.0" x2="48.9" y2="410.0" stroke="#000" stroke-width="1.85"/>
<line x1="236.8" y1="475.0" x2="236.8" y2="515.5" stroke="#000" stroke-width="1.85"/>
<line x1="595.2" y1="269.0" x2="595.2" y2="310.0" stroke="#000" stroke-width="1.85"/>
<line x1="48.9" y1="402.0" x2="107.0" y2="436.0" stroke="#000" stroke-width="1.85"/>
<polygon points="48.9,402.0 66.3,419.7 72.9,408.5" fill="#000"/>
<line x1="179.3" y1="477.4" x2="235.8" y2="509.5" stroke="#000" stroke-width="1.85"/>
<polygon points="236.3,510.0 218.7,492.4 212.2,503.7" fill="#000"/>
<line x1="236.8" y1="510.0" x2="395.4" y2="419.4" stroke="#000" stroke-width="1.85"/>
<polygon points="237.3,509.8 261.4,503.5 254.9,492.2" fill="#000"/>
<line x1="455.4" y1="383.4" x2="595.3" y2="304.6" stroke="#000" stroke-width="1.85"/>
<polygon points="595.3,304.6 571.2,310.7 577.6,322.0" fill="#000"/>
<line x1="529.0" y1="95.5" x2="670.2" y2="16.8" stroke="#000" stroke-width="1.85"/>
<line x1="663.9" y1="18.5" x2="663.9" y2="97.2" stroke="#000" stroke-width="1.85"/>
<polygon points="663.9,18.5 657.5,42.5 670.3,42.5" fill="#000"/>
<line x1="663.9" y1="144.0" x2="663.9" y2="222.5" stroke="#000" stroke-width="1.85"/>
<polygon points="663.9,222.5 670.3,198.5 657.5,198.5" fill="#000"/>
<line x1="600.9" y1="258.6" x2="671.9" y2="218.9" stroke="#000" stroke-width="1.85"/>
<line x1="599.8" y1="171.4" x2="633.3" y2="153.0" stroke="#000" stroke-width="1.85"/>
<line x1="626.8" y1="120.9" x2="626.8" y2="154.0" stroke="#000" stroke-width="1.85"/>
<polygon points="626.8,154.0 633.3,132.0 620.3,132.0" fill="#000"/>
<line x1="626.8" y1="244.1" x2="626.8" y2="276.6" stroke="#000" stroke-width="1.85"/>
<polygon points="626.8,244.1 620.3,266.1 633.3,266.1" fill="#000"/>
<text transform="translate(644.80,132.75) scale(0.1702,0.1725)" x="0" y="0" font-family="Liberation Sans, sans-serif" font-size="200" fill="#000" stroke="#fff" stroke-width="2.61" paint-order="fill">60</text>
<text transform="translate(612.65,211.36) scale(0.1691,0.1676)" x="0" y="0" font-family="Liberation Sans, sans-serif" font-size="200" fill="#000" stroke="#fff" stroke-width="2.68" paint-order="fill">3</text>
<path d="M641.6,211.7 L641.6,188.2 Q640.1,193.0 634.8,193.6" fill="none" stroke="#000" stroke-width="2.0" stroke-linejoin="round"/>
<path d="M406.9,415.5 L406.9,392.3 Q405.4,396.7 399.6,397.3" fill="none" stroke="#000" stroke-width="2.0" stroke-linejoin="round"/>
<text transform="translate(414.99,415.50) scale(0.1620,0.1703)" x="0" y="0" font-family="Liberation Sans, sans-serif" font-size="200" fill="#000" stroke="#fff" stroke-width="2.64" paint-order="fill">4</text>
<text transform="translate(433.11,415.50) scale(0.1692,0.1714)" x="0" y="0" font-family="Liberation Sans, sans-serif" font-size="200" fill="#000" stroke="#fff" stroke-width="2.62" paint-order="fill">2</text>
<text transform="translate(108.62,467.77) scale(0.1679,0.1671)" x="0" y="0" font-family="Liberation Sans, sans-serif" font-size="200" fill="#000" stroke="#fff" stroke-width="2.69" paint-order="fill">75,5</text>
</svg></body></html>
